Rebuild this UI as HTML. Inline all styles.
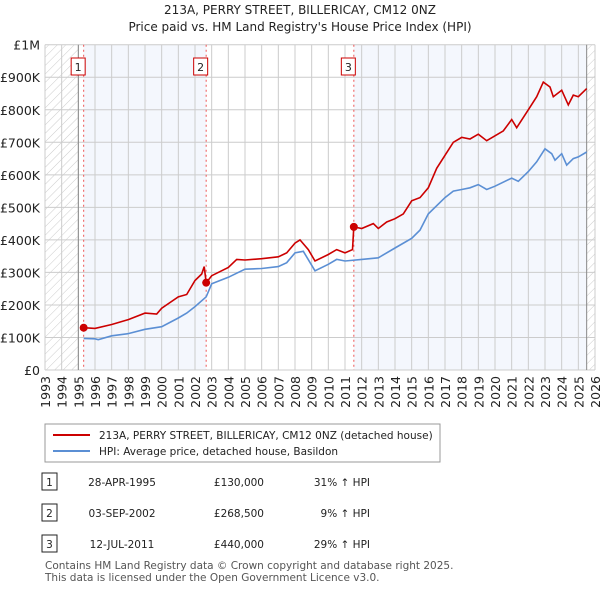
<!DOCTYPE html>
<html><head><meta charset="utf-8"><style>
body{margin:0;background:#fff;font-family:"DejaVu Sans","Liberation Sans",sans-serif;}
svg text{font-family:"DejaVu Sans","Liberation Sans",sans-serif;}
</style></head><body>
<svg id="c" width="600" height="590" xmlns="http://www.w3.org/2000/svg">
<defs><pattern id="hatch" width="6" height="6" patternUnits="userSpaceOnUse" patternTransform="rotate(45)"><line x1="0" y1="0" x2="0" y2="6" stroke="#ccc" stroke-width="1"/></pattern></defs>
<text x="300" y="14" text-anchor="middle" font-size="12" fill="#222">213A, PERRY STREET, BILLERICAY, CM12 0NZ</text>
<text x="300" y="31" text-anchor="middle" font-size="12" fill="#222">Price paid vs. HM Land Registry's House Price Index (HPI)</text>
<g id="plot"></g>
<g id="legend">
<rect x="45" y="424" width="395" height="38" fill="#fff" stroke="#999"/>
<line x1="53" y1="435" x2="90" y2="435" stroke="#cc0000" stroke-width="2"/>
<text x="99" y="439" font-size="10.5" fill="#222">213A, PERRY STREET, BILLERICAY, CM12 0NZ (detached house)</text>
<line x1="53" y1="451" x2="90" y2="451" stroke="#5b8fd4" stroke-width="2"/>
<text x="99" y="455" font-size="10.5" fill="#222">HPI: Average price, detached house, Basildon</text>
</g>
<g id="table" font-size="10.5" fill="#222"></g>
<text x="45" y="569" font-size="10.5" fill="#555">Contains HM Land Registry data © Crown copyright and database right 2025.</text>
<text x="45" y="581" font-size="10.5" fill="#555">This data is licensed under the Open Government Licence v3.0.</text>
</svg>
<script>
const redYears=[1995.32,1996,1997,1998,1999,1999.7,2000,2001,2001.5,2002,2002.4,2002.55,2002.67,2003,2004,2004.5,2005,2006,2007,2007.5,2008,2008.3,2008.8,2009.2,2010,2010.5,2011,2011.45,2011.53,2012,2012.7,2013,2013.5,2014,2014.5,2015,2015.5,2016,2016.5,2017,2017.5,2018,2018.5,2019,2019.5,2020,2020.5,2021,2021.3,2022,2022.5,2022.9,2023.3,2023.5,2024,2024.4,2024.7,2025,2025.5];
const redValues=[130,128,140,155,175,172,190,225,232,275,295,318,268.5,290,315,340,338,342,348,360,390,400,370,335,355,370,360,370,440,435,450,435,455,465,480,520,530,560,620,660,700,715,710,725,705,720,735,770,745,800,840,885,870,840,860,815,845,840,865];
const hpiYears=[1995.32,1996,1996.2,1997,1998,1999,2000,2001,2001.5,2002,2002.67,2003,2004,2005,2006,2007,2007.5,2008,2008.5,2009.2,2010,2010.5,2011,2012,2013,2014,2015,2015.5,2016,2017,2017.5,2018,2018.5,2019,2019.5,2020,2021,2021.4,2022,2022.5,2023,2023.4,2023.6,2024,2024.3,2024.7,2025,2025.5];
const hpiValues=[97,96,93,105,112,125,133,160,175,195,225,265,285,310,312,318,330,360,365,305,325,340,335,340,345,375,405,430,480,530,550,555,560,570,555,565,590,580,610,640,680,665,645,665,630,650,655,670];
const saleYears=[1995.32,2002.67,2011.53];
const saleValues=[130,268.5,440];
const saleLabels=["1","2","3"];
const saleDates=["28-APR-1995","03-SEP-2002","12-JUL-2011"];
const salePrices=["£130,000","£268,500","£440,000"];
const saleHpi=["31% ↑ HPI","9% ↑ HPI","29% ↑ HPI"];
const yTicks=[0,100,200,300,400,500,600,700,800,900,1000];
const yTickLabels=["£0","£100K","£200K","£300K","£400K","£500K","£600K","£700K","£800K","£900K","£1M"];
const xTicks=[1993,1994,1995,1996,1997,1998,1999,2000,2001,2002,2003,2004,2005,2006,2007,2008,2009,2010,2011,2012,2013,2014,2015,2016,2017,2018,2019,2020,2021,2022,2023,2024,2025,2026];

const NS="http://www.w3.org/2000/svg";
const X0=45,X1=595,Y0=370,Y1=44.7;
const x=v=>X0+(v-1993)/(2026-1993)*(X1-X0);
const y=v=>Y0-v/1000*(Y0-Y1);
const plot=document.getElementById('plot');
function mk(t,a,p){const e=document.createElementNS(NS,t);for(const k in a)e.setAttribute(k,a[k]);(p||plot).appendChild(e);return e;}
let e;
e=mk('rect',{x:x(1995.32),y:Y1,width:x(2002.67)-x(1995.32),height:Y0-Y1,fill:'#f4f7fd'});


e=mk('rect',{x:x(2011.53),y:Y1,width:x(2025.5)-x(2011.53),height:Y0-Y1,fill:'#f4f7fd'});


xTicks.forEach(t=>{e=mk('line',{x1:x(t),x2:x(t),y1:Y1,y2:Y0,stroke:'#ccc'});

});
yTicks.forEach((t,i)=>{e=mk('line',{x1:X0,x2:X1,y1:y(t),y2:y(t),stroke:'#ccc'});


e=mk('text',{x:X0-5,y:y(t)+5,'text-anchor':'end','font-size':'12.5',fill:'#222'});e.textContent=yTickLabels[i];

});
e=mk('rect',{x:X0,y:Y1,width:x(1995)-X0,height:Y0-Y1,fill:'url(#hatch)'});


e=mk('rect',{x:x(2025.5),y:Y1,width:X1-x(2025.5),height:Y0-Y1,fill:'url(#hatch)'});


mk('line',{x1:x(1995),x2:x(1995),y1:Y1,y2:Y0,stroke:'#888'});
mk('line',{x1:x(2025.5),x2:x(2025.5),y1:Y1,y2:Y0,stroke:'#888'});
xTicks.forEach(t=>{e=mk('text',{transform:`translate(${x(t)+5},${Y0+6}) rotate(-90)`,'text-anchor':'end','font-size':'12.5',fill:'#222'});e.textContent=t;

});
saleYears.forEach((s,i)=>{e=mk('line',{x1:x(s),x2:x(s),y1:Y1,y2:Y0,stroke:'#e55','stroke-dasharray':'2,3'});


e=mk('rect',{x:x(s)-12.5,y:58,width:14,height:17,fill:'#fff',stroke:'#cc0000'});


e=mk('text',{x:x(s)-5.5,y:71,'text-anchor':'middle','font-size':'11',fill:'#222'});e.textContent=saleLabels[i];

});
const path=(xs,vs)=>xs.map((v,i)=>(i?'L':'M')+x(v).toFixed(1)+','+y(vs[i]).toFixed(1)).join('');
e=mk('path',{d:path(hpiYears,hpiValues),fill:'none',stroke:'#5b8fd4','stroke-width':'1.6'});


e=mk('path',{d:path(redYears,redValues),fill:'none',stroke:'#cc0000','stroke-width':'1.6'});


saleYears.forEach((s,i)=>{e=mk('circle',{cx:x(s),cy:y(saleValues[i]),r:4,fill:'#cc0000'});

});
const tb=document.getElementById('table');const rowY=[486,517,548];
saleLabels.forEach((l,i)=>{const ry=rowY[i];
e=mk('rect',{x:42,y:ry-13,width:15,height:17,fill:'#fff',stroke:'#222'},tb);


e=mk('text',{x:49.5,y:ry,'text-anchor':'middle'},tb);e.textContent=l;


e=mk('text',{x:122,y:ry,'text-anchor':'middle'},tb);e.textContent=saleDates[i];


e=mk('text',{x:264,y:ry,'text-anchor':'end'},tb);e.textContent=salePrices[i];


e=mk('text',{x:370,y:ry,'text-anchor':'end'},tb);e.textContent=saleHpi[i];

});
</script>
</body></html>
